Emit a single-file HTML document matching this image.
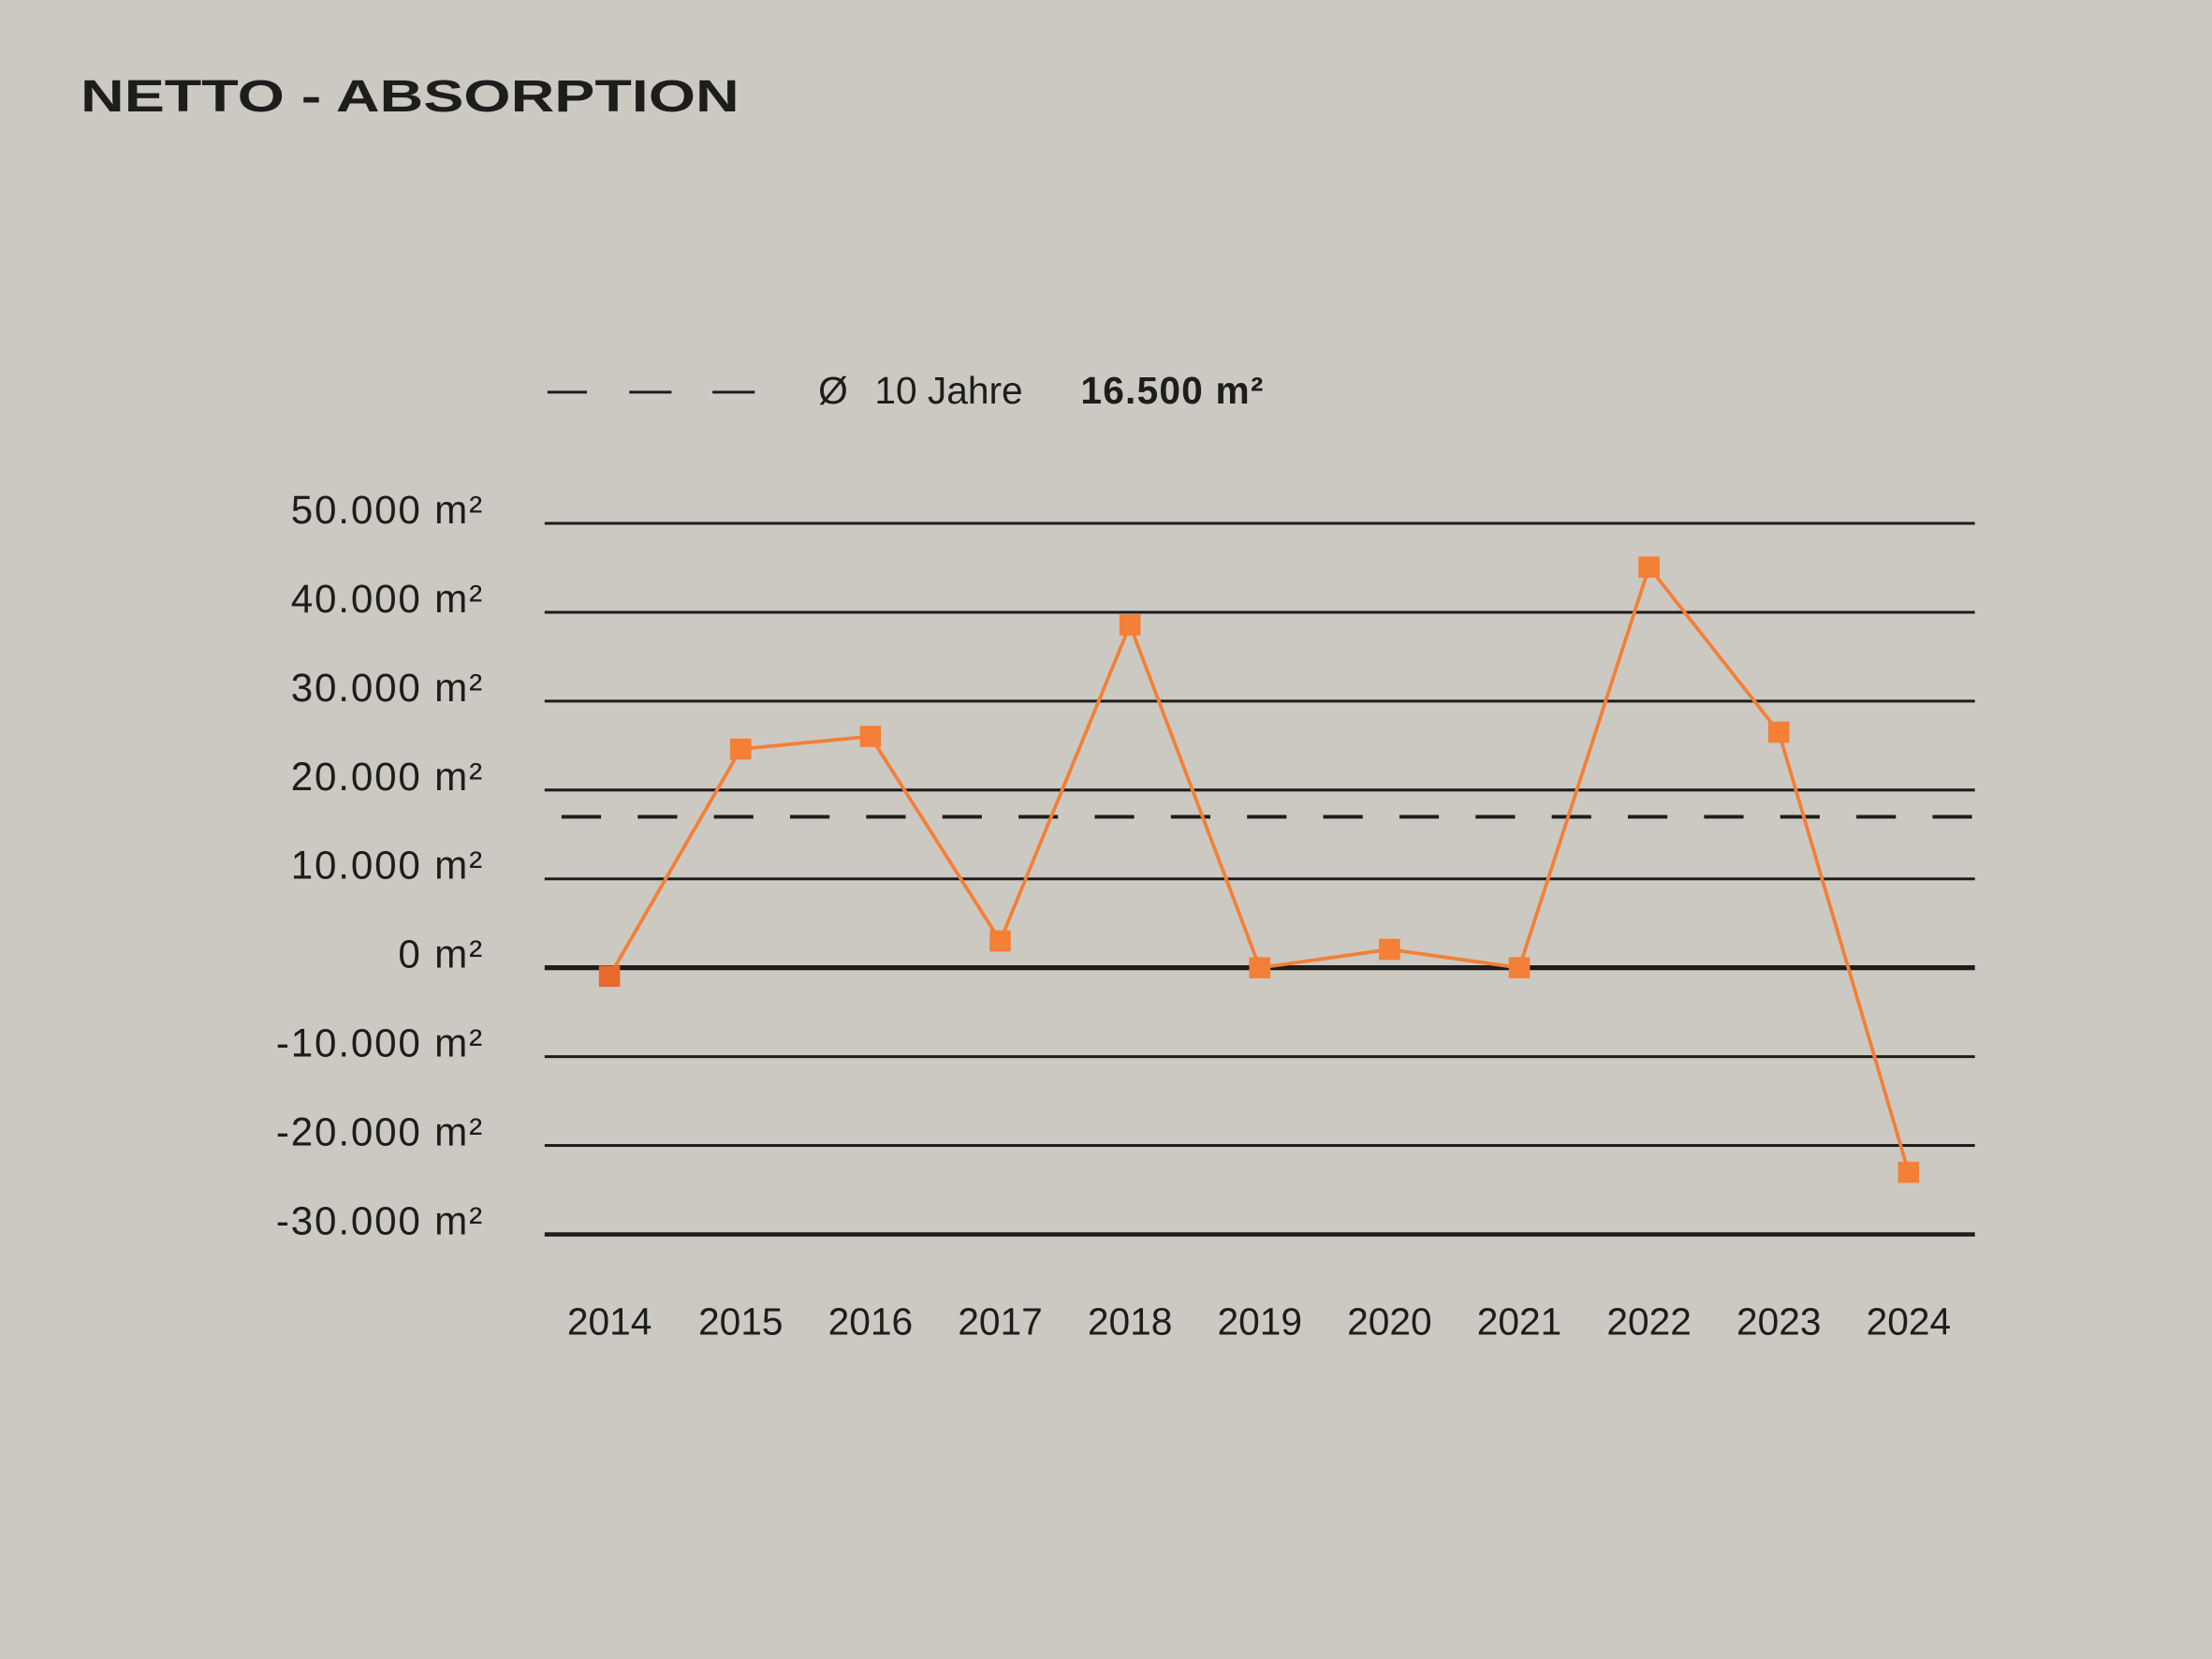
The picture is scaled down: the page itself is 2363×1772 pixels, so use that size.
<!DOCTYPE html>
<html><head><meta charset="utf-8"><style>
html,body{margin:0;padding:0;background:#ccc9c2;}
svg{display:block;}
</style></head><body>
<svg width="2363" height="1772" viewBox="0 0 1568 1176" xmlns="http://www.w3.org/2000/svg">
<rect width="1568" height="1176" fill="#ccc9c2"/>
<text x="57" y="79" font-family="Liberation Sans, sans-serif" font-weight="bold" font-size="32" fill="#1d1d1b" textLength="467" lengthAdjust="spacingAndGlyphs">NETTO - ABSORPTION</text>
<g stroke="#1d1d1b" stroke-width="2">
<line x1="388" y1="278" x2="416" y2="278"/>
<line x1="446" y1="278" x2="476" y2="278"/>
<line x1="505" y1="278" x2="535" y2="278"/>
</g>
<g font-family="Liberation Sans, sans-serif" font-size="27" fill="#1d1d1b">
<text x="580" y="286">Ø</text>
<text x="620" y="286">10 Jahre</text>
<text x="766" y="286" font-weight="bold" letter-spacing="0.8">16.500 m²</text>
</g>
<g stroke="#1d1d1b" stroke-width="2">
<line x1="386" y1="371" x2="1400" y2="371"/>
<line x1="386" y1="434" x2="1400" y2="434"/>
<line x1="386" y1="497" x2="1400" y2="497"/>
<line x1="386" y1="560" x2="1400" y2="560"/>
<line x1="386" y1="623" x2="1400" y2="623"/>
<line x1="386" y1="686" x2="1400" y2="686" stroke-width="3.5"/>
<line x1="386" y1="749" x2="1400" y2="749"/>
<line x1="386" y1="812" x2="1400" y2="812"/>
<line x1="386" y1="875" x2="1400" y2="875" stroke-width="3"/>
<line x1="398" y1="579" x2="1400" y2="579" stroke-width="2.5" stroke-dasharray="28 26"/>
</g>
<g font-family="Liberation Sans, sans-serif" font-size="28" fill="#1d1d1b" text-anchor="end" letter-spacing="1.2">
<text x="343" y="371">50.000 m²</text>
<text x="343" y="434">40.000 m²</text>
<text x="343" y="497">30.000 m²</text>
<text x="343" y="560">20.000 m²</text>
<text x="343" y="623">10.000 m²</text>
<text x="343" y="686">0 m²</text>
<text x="343" y="749">-10.000 m²</text>
<text x="343" y="812">-20.000 m²</text>
<text x="343" y="875">-30.000 m²</text>
</g>
<g font-family="Liberation Sans, sans-serif" font-size="27" fill="#1d1d1b" text-anchor="middle">
<text x="432" y="946">2014</text><text x="525" y="946">2015</text><text x="617" y="946">2016</text><text x="709" y="946">2017</text><text x="801" y="946">2018</text><text x="893" y="946">2019</text><text x="985" y="946">2020</text><text x="1077" y="946">2021</text><text x="1169" y="946">2022</text><text x="1261" y="946">2023</text><text x="1353" y="946">2024</text>
</g>
<polyline fill="none" stroke="#f47f36" stroke-width="2.5" points="432,692 525,531 617,522 709,667 801,443 893,686 985,673 1077,686 1169,402 1261,519 1353,831"/>
<g fill="#f47f36">
<rect x="424.5" y="684.5" width="15" height="15" fill="#e8692c"/>
<rect x="517.5" y="523.5" width="15" height="15"/>
<rect x="609.5" y="514.5" width="15" height="15"/>
<rect x="701.5" y="659.5" width="15" height="15"/>
<rect x="793.5" y="435.5" width="15" height="15"/>
<rect x="885.5" y="678.5" width="15" height="15"/>
<rect x="977.5" y="665.5" width="15" height="15"/>
<rect x="1069.5" y="678.5" width="15" height="15"/>
<rect x="1161.5" y="394.5" width="15" height="15"/>
<rect x="1253.5" y="511.5" width="15" height="15"/>
<rect x="1345.5" y="823.5" width="15" height="15"/>
</g>
</svg>
</body></html>
